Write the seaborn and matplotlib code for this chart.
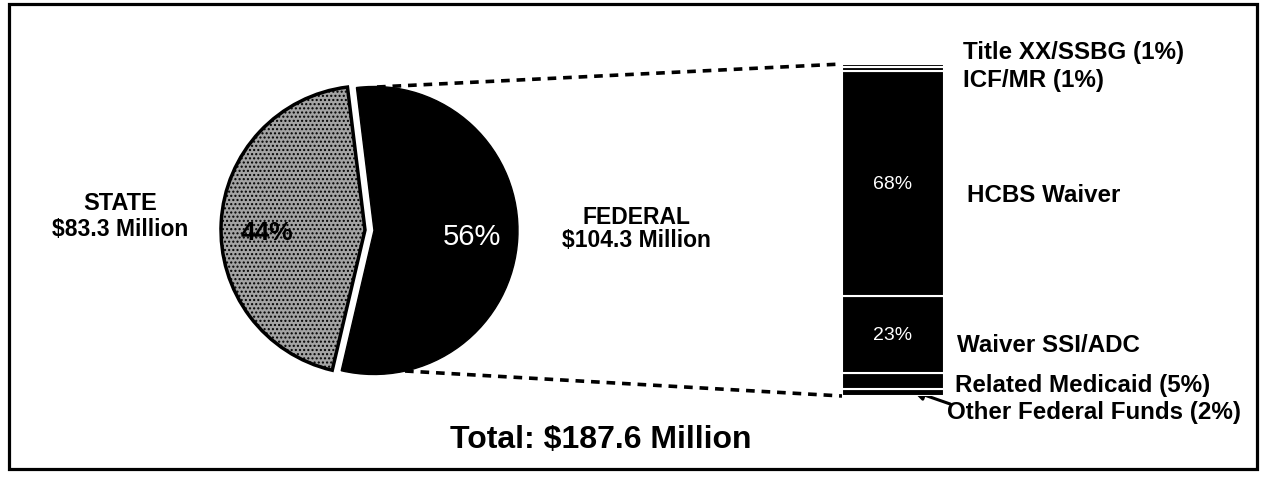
import matplotlib
matplotlib.use("Agg")
import matplotlib.pyplot as plt
from matplotlib.patches import Rectangle
import seaborn as sns

# funding split (millions of dollars)
sources = ["FEDERAL", "STATE"]
amounts = [104.3, 83.3]
total = 187.6

# federal breakdown, top of the bar to bottom (percent of federal)
fed_parts = ["Title XX/SSBG (1%)", "ICF/MR (1%)", "HCBS Waiver",
             "Waiver SSI/ADC", "Related Medicaid (5%)", "Other Federal Funds (2%)"]
fed_share = [1, 1, 68, 23, 5, 2]
fed_inside = ["", "", "68%", "23%", "", ""]

sns.set_theme(style="white")
plt.rcParams["font.family"] = ["Liberation Sans", "DejaVu Sans"]
plt.rcParams["text.color"] = "black"

W, H = 1264, 481
fig = plt.figure(figsize=(W / 100, H / 100), dpi=100)
ax = fig.add_axes([0, 0, 1, 1])

# pie (pixel coords, y flipped so up is up); explode is in data units here
cx, cy, r = 365, H - 231, 144
wedges, texts, autotexts = ax.pie(
    amounts, center=(cx, cy), radius=r, startangle=97, counterclock=False,
    explode=(9, 0), frame=True, autopct="%.0f%%", pctdistance=0.68,
    wedgeprops=dict(linewidth=2.5))
wedges[0].set_facecolor("black")
wedges[0].set_edgecolor("black")
wedges[0].set_linewidth(1)
wedges[1].set_facecolor("#a3a3a3")
wedges[1].set_edgecolor("black")
wedges[1].set_hatch("....")
autotexts[0].set_color("white")
autotexts[0].set_fontsize(21)
autotexts[1].set_color("black")
autotexts[1].set_fontsize(19)
autotexts[1].set_fontweight("bold")
autotexts[1].set_y(cy - 2)

ax.text(120, H - 204, sources[1], ha="center", va="center", fontsize=17, fontweight="bold")
ax.text(120, H - 230, "$%.1f Million" % amounts[1], ha="center", va="center",
        fontsize=16.5, fontweight="bold")
ax.text(636, H - 217, sources[0], ha="center", va="center", fontsize=16.5, fontweight="bold")
ax.text(636, H - 241, "$%.1f Million" % amounts[0], ha="center", va="center",
        fontsize=16.5, fontweight="bold")

ax.text(601, H - 440, "Total: $%.1f Million" % total, ha="center", va="center",
        fontsize=23, fontweight="bold")

# dashed connectors from the federal wedge to the bar
bar_l, bar_r, bar_t, bar_b = 842, 944, 65, 397
ax.plot([cx + 12, bar_l], [cy + r - 1, H - bar_t], color="black", lw=2.6,
        ls=(0, (2.4, 1.9)), zorder=0)
ax.plot([cx + 40, bar_l], [cy - r + 3, H - bar_b], color="black", lw=2.6,
        ls=(0, (2.4, 1.9)), zorder=0)

# right-hand labels
label_pos = [(963, 53), (963, 80), (967, 196), (957, 345), (955, 386), (947, 413)]
for name, (lx, ly) in zip(fed_parts, label_pos):
    ax.text(lx, H - ly, name, ha="left", va="center", fontsize=17.4, fontweight="bold")
ax.annotate("", xy=(910, H - 391), xytext=(953, H - 406),
            arrowprops=dict(arrowstyle="-|>", color="black", lw=2.2, mutation_scale=16))

ax.add_patch(Rectangle((9, H - 470), 1248, 465, fill=False, lw=2.3,
                       edgecolor="black", clip_on=False))

ax.set_xlim(0, W)
ax.set_ylim(0, H)
ax.axis("off")

# stacked bar for the federal breakdown
bx = fig.add_axes([bar_l / W, (H - bar_b) / H, (bar_r - bar_l) / W, (bar_b - bar_t) / H])
bottom = 0
for share, inside in zip(fed_share[::-1], fed_inside[::-1]):
    bx.bar(0, share, width=1, bottom=bottom, color="black", edgecolor="white", lw=1.5)
    if inside:
        bx.text(0, bottom + share / 2, inside, ha="center", va="center",
                color="white", fontsize=14)
    bottom += share
bx.set_xlim(-0.5, 0.5)
bx.set_ylim(0, 100)
bx.axis("off")

fig.savefig("out.png", dpi=100, facecolor="white")
